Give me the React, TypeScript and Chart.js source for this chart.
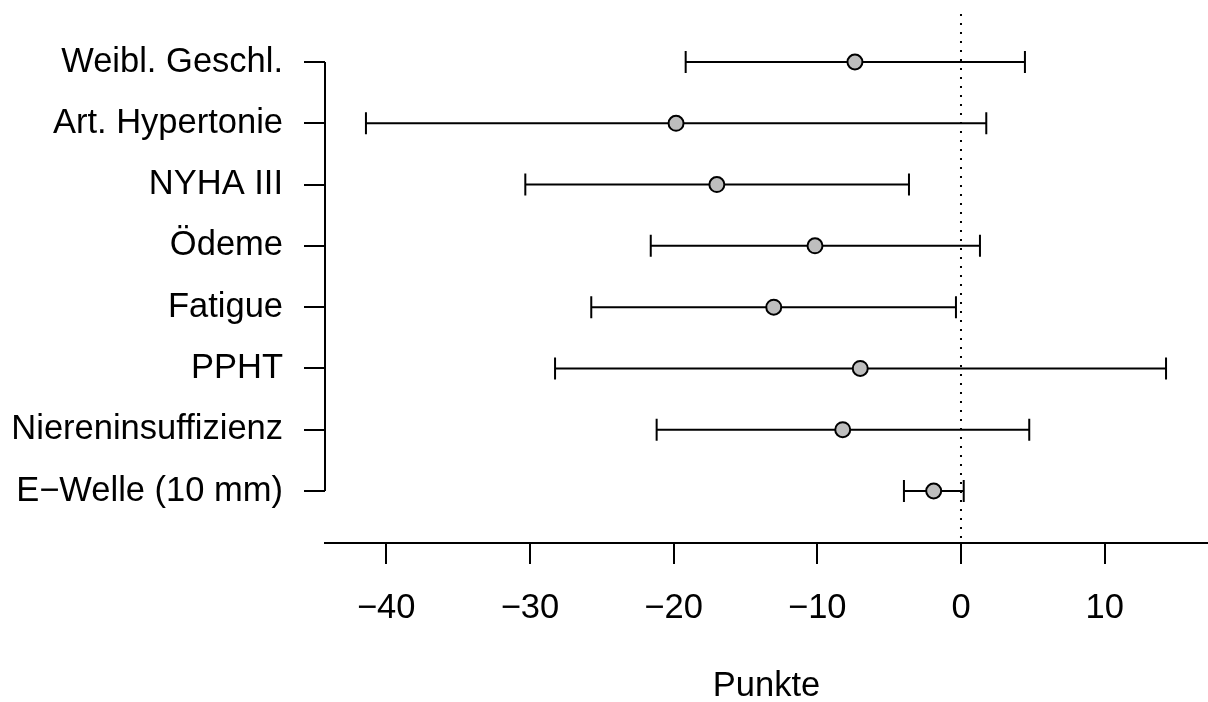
import React, { useEffect, useRef } from 'react';
import { Chart, registerables } from 'chart.js';

Chart.register(...registerables);

// ---- data ----
const categories = [
  'Weibl. Geschl.',
  'Art. Hypertonie',
  'NYHA III',
  'Ödeme',
  'Fatigue',
  'PPHT',
  'Niereninsuffizienz',
  'E\u2212Welle (10 mm)',
];
const estimates = [-7.38, -19.83, -16.99, -10.16, -13.03, -7.01, -8.23, -1.9];
const lowerCI = [-19.16, -41.41, -30.32, -21.59, -25.73, -28.25, -21.18, -3.97];
const upperCI = [4.45, 1.76, -3.62, 1.32, -0.35, 14.27, 4.75, 0.19];
const xTicks = [-40, -30, -20, -10, 0, 10];
const referenceValue = 0;
const xTitle = 'Punkte';

const FONT = '"Liberation Sans", Arial, Helvetica, sans-serif';
const FONT_SIZE = 34.5;

const forestPlugin = {
  id: 'forestBars',
  beforeDatasetsDraw(chart: any) {
    const { ctx, chartArea, scales } = chart;
    const x = scales.x;
    const y = scales.y;
    ctx.save();
    ctx.strokeStyle = '#000';
    ctx.lineWidth = 2;
    ctx.lineCap = 'butt';

    // dotted reference line
    const xr = x.getPixelForValue(referenceValue);
    ctx.setLineDash([2, 7]);
    ctx.beginPath();
    ctx.moveTo(xr, chartArea.top);
    ctx.lineTo(xr, chartArea.bottom);
    ctx.stroke();
    ctx.setLineDash([]);

    // y axis line spanning first to last category
    ctx.beginPath();
    ctx.moveTo(chartArea.left, y.getPixelForValue(0));
    ctx.lineTo(chartArea.left, y.getPixelForValue(categories.length - 1));
    ctx.stroke();

    // confidence intervals
    const cap = 11;
    categories.forEach((_, i) => {
      const py = y.getPixelForValue(i);
      const x1 = x.getPixelForValue(lowerCI[i]);
      const x2 = x.getPixelForValue(upperCI[i]);
      ctx.beginPath();
      ctx.moveTo(x1, py);
      ctx.lineTo(x2, py);
      ctx.moveTo(x1, py - cap);
      ctx.lineTo(x1, py + cap);
      ctx.moveTo(x2, py - cap);
      ctx.lineTo(x2, py + cap);
      ctx.stroke();
    });
    ctx.restore();
  },
};

export default function App() {
  const ref = useRef<HTMLCanvasElement | null>(null);

  useEffect(() => {
    if (!ref.current) return;
    const chart = new Chart(ref.current, {
      type: 'scatter',
      data: {
        datasets: [
          {
            data: estimates.map((v, i) => ({ x: v, y: i })),
            pointRadius: 7.5,
            pointHoverRadius: 7.5,
            backgroundColor: '#BEBEBE',
            borderColor: '#000',
            borderWidth: 2,
          },
        ],
      },
      options: {
        responsive: false,
        animation: false,
        devicePixelRatio: 1,
        layout: { autoPadding: false, padding: { top: 14, right: 0, bottom: 0, left: 0 } },
        plugins: {
          legend: { display: false },
          tooltip: { enabled: false },
        },
        scales: {
          x: {
            type: 'linear',
            position: 'bottom',
            min: -44.26,
            max: 17.19,
            afterBuildTicks: (scale: any) => {
              scale.ticks = xTicks.map((v) => ({ value: v }));
            },
            afterFit: (scale: any) => {
              scale.height = 159;
              scale.paddingLeft = 0;
              scale.paddingRight = 0;
            },
            border: { display: true, color: '#000', width: 2 },
            grid: {
              display: true,
              drawOnChartArea: false,
              drawTicks: true,
              tickLength: 21,
              color: '#000',
              lineWidth: 2,
            },
            ticks: {
              autoSkip: false,
              maxRotation: 0,
              minRotation: 0,
              padding: 24,
              color: '#000',
              font: { family: FONT, size: FONT_SIZE },
              callback: (v: any) => (Number(v) < 0 ? '\u2212' + Math.abs(Number(v)) : String(v)),
            },
            title: {
              display: true,
              text: xTitle,
              color: '#000',
              padding: { top: 0, bottom: 0 },
              font: { family: FONT, size: FONT_SIZE, lineHeight: 0.9 },
            },
          },
          y: {
            type: 'linear',
            position: 'left',
            reverse: true,
            min: -0.7832,
            max: 7.8485,
            afterBuildTicks: (scale: any) => {
              scale.ticks = categories.map((_, i) => ({ value: i }));
            },
            afterFit: (scale: any) => {
              scale.width = 325;
              scale.paddingTop = 0;
              scale.paddingBottom = 0;
            },
            border: { display: false },
            grid: {
              display: true,
              drawOnChartArea: false,
              drawTicks: true,
              tickLength: 21,
              color: '#000',
              lineWidth: 2,
            },
            ticks: {
              autoSkip: false,
              padding: 21,
              color: '#000',
              font: { family: FONT, size: FONT_SIZE },
              callback: (_v: any, index: number) => categories[index],
            },
          },
        },
      },
      plugins: [forestPlugin],
    });
    return () => chart.destroy();
  }, []);

  return (
    <div style={{ position: 'absolute', left: 0, top: 0, width: 1208, height: 702, background: '#fff' }}>
      <canvas ref={ref} width={1208} height={702} style={{ width: 1208, height: 702, display: 'block' }} />
    </div>
  );
}
